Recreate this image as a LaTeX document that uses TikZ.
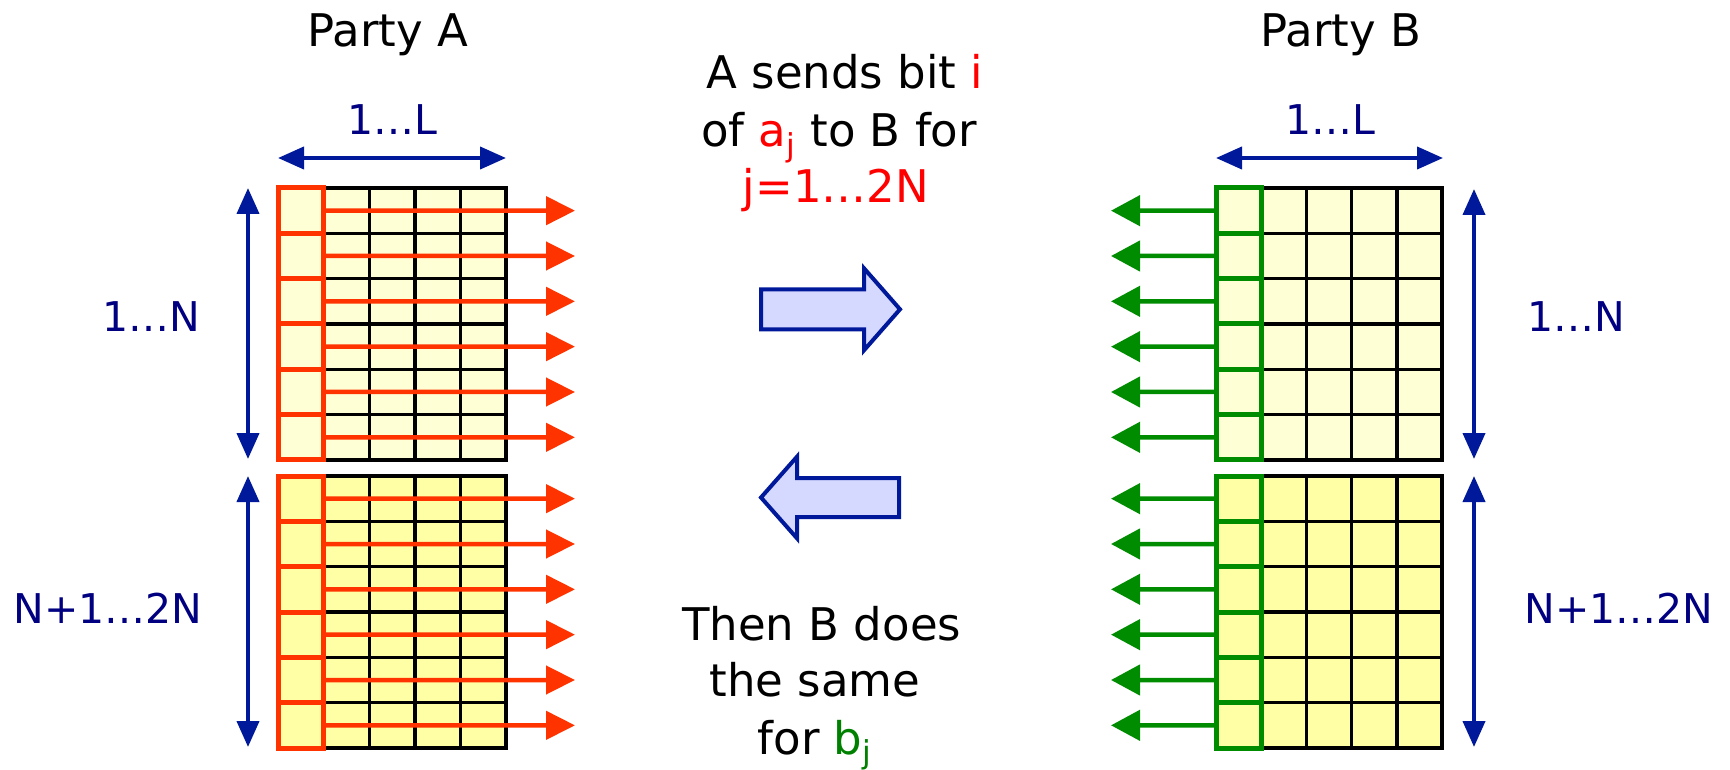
\documentclass[tikz,border=0pt]{standalone}
\usepackage{fontspec}
\setmainfont{DejaVu Sans}
\usetikzlibrary{arrows.meta}
\definecolor{redA}{HTML}{FF3300}
\definecolor{grnB}{HTML}{008C00}
\definecolor{navy}{HTML}{00189A}
\definecolor{navyT}{HTML}{000080}
\definecolor{yUp}{HTML}{FFFFD6}
\definecolor{yLo}{HTML}{FFFFA6}
\definecolor{blkfill}{HTML}{D6D9FF}
\definecolor{txtgreen}{HTML}{008000}
\begin{document}
\begin{tikzpicture}[x=0.5pt,y=-0.5pt,
  gridline/.style={draw=black,line width=1.7pt},
  cellA/.style={draw=redA,line width=2.5pt,minimum width=22.8pt,minimum height=22.667pt,inner sep=0pt,outer sep=0pt,anchor=north west},
  cellB/.style={draw=grnB,line width=2.5pt,minimum width=22.6pt,minimum height=22.667pt,inner sep=0pt,outer sep=0pt,anchor=north west},
  sendA/.style={draw=redA,line width=2.25pt,arrows={-Triangle[length=14.5pt,width=14pt]}},
  sendB/.style={draw=grnB,line width=2.25pt,arrows={-Triangle[length=14.5pt,width=15pt]}},
  dim/.style={draw=navy,line width=2pt,arrows={Triangle[length=13pt,width=11pt]-Triangle[length=13pt,width=11pt]}},
  blk/.style={draw=navy,fill=blkfill,line width=2pt,line join=miter},
  ttl/.style={font=\fontsize{22.5pt}{27pt}\selectfont,inner sep=0pt,anchor=base},
  lbl/.style={font=\fontsize{20.5pt}{25pt}\selectfont,text=navyT,inner sep=0pt}
]
\useasboundingbox (0,0) rectangle (1730,770);

% Party A grids
\foreach \h/\yt/\fc in {0/188/yUp,1/476/yLo}{
  \fill[\fc] (278,\yt) rectangle (506,\yt+272);
  \foreach \k in {1,...,11} \draw[gridline] (323.6,\yt+22.667*\k) -- (506,\yt+22.667*\k);
  \foreach \c in {1,...,4} \draw[gridline] (278+45.6*\c,\yt) -- (278+45.6*\c,\yt+272);
  \draw[gridline] (278,\yt) rectangle (506,\yt+272);
  \foreach \r in {1,...,6}{
    \node[cellA,fill=\fc] (A\h\r) at (278,\yt+45.333*\r-45.333) {};
    \coordinate (tA\h\r) at (575,\yt+45.333*\r-22.667);
    \draw[sendA] (A\h\r.east) -- (tA\h\r);
  }
}

% Party B grids
\foreach \h/\yt/\fc in {0/188/yUp,1/476/yLo}{
  \fill[\fc] (1216,\yt) rectangle (1442,\yt+272);
  \foreach \k in {1,...,5} \draw[gridline] (1261.2,\yt+45.333*\k) -- (1442,\yt+45.333*\k);
  \foreach \c in {1,...,4} \draw[gridline] (1216+45.2*\c,\yt) -- (1216+45.2*\c,\yt+272);
  \draw[gridline] (1216,\yt) rectangle (1442,\yt+272);
  \foreach \r in {1,...,6}{
    \node[cellB,fill=\fc] (B\h\r) at (1216,\yt+45.333*\r-45.333) {};
    \coordinate (tB\h\r) at (1111,\yt+45.333*\r-22.667);
    \draw[sendB] (B\h\r.west) -- (tB\h\r);
  }
}

% dimension arrows
\coordinate (hAl) at (278,158); \coordinate (hAr) at (506,158);
\coordinate (hBl) at (1216,158); \coordinate (hBr) at (1443,158);
\coordinate (vA0t) at (248,188); \coordinate (vA0b) at (248,459);
\coordinate (vA1t) at (248,476); \coordinate (vA1b) at (248,747);
\coordinate (vB0t) at (1474,189); \coordinate (vB0b) at (1474,459);
\coordinate (vB1t) at (1474,476); \coordinate (vB1b) at (1474,747);
\draw[dim] (hAl) -- (hAr);
\draw[dim] (hBl) -- (hBr);
\draw[dim] (vA0t) -- (vA0b);
\draw[dim] (vA1t) -- (vA1b);
\draw[dim] (vB0t) -- (vB0b);
\draw[dim] (vB1t) -- (vB1b);

% block arrows
\draw[blk] (761,289.3) -- (864,289.3) -- (864,268.3) -- (900,309.3) -- (864,350.3) -- (864,329.3) -- (761,329.3) -- cycle;
\draw[blk] (761,497.5) -- (797,456.7) -- (797,478) -- (899,478) -- (899,517) -- (797,517) -- (797,538.3) -- cycle;

% texts
\node[ttl] (pa) at (388,46.7) {Party A};
\node[ttl] (pb) at (1341,46.7) {Party B};
\node[lbl,anchor=base] (la) at (392.5,135) {1…L};
\node[lbl,anchor=base] (lb) at (1330,135) {1…L};
\node[lbl,anchor=base east] (na1) at (201,331.7) {1…N};
\node[lbl,anchor=base east] (na2) at (203,623.3) {N+1…2N};
\node[lbl,anchor=base west] (nb1) at (1527,331.7) {1…N};
\node[lbl,anchor=base west] (nb2) at (1524,623.3) {N+1…2N};

\node[ttl] (m1) at (845,88.3) {A sends bit \textcolor{red}{i}};
\node[ttl] (m2) at (839,146.7) {of \textcolor{red}{a\textsubscript{j}} to B for};
\node[ttl,text=red] (m3) at (836,202.7) {j=1…2N};
\node[ttl] (n1) at (821.7,640) {Then B does};
\node[ttl] (n2) at (815,696.7) {the same};
\node[ttl] (n3) at (815,754) {for \textcolor{txtgreen}{b\textsubscript{j}}};
\end{tikzpicture}
\end{document}
